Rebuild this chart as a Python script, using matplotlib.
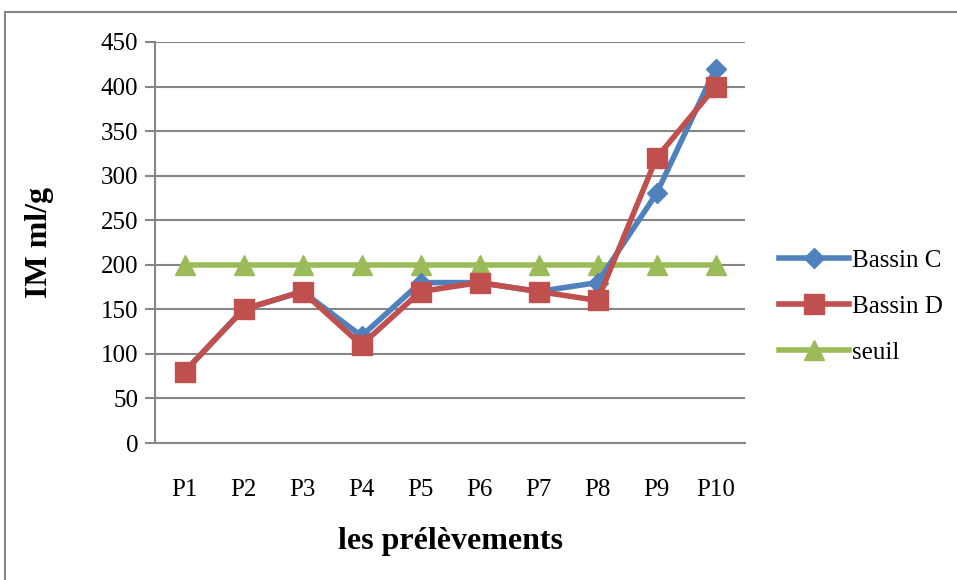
import numpy as np
import matplotlib
matplotlib.use("Agg")
import matplotlib.pyplot as plt
from matplotlib.lines import Line2D

plt.rcParams['font.family'] = ['Liberation Serif', 'DejaVu Serif']

categories = ['P1', 'P2', 'P3', 'P4', 'P5', 'P6', 'P7', 'P8', 'P9', 'P10']
bassin_c = [80, 150, 170, 120, 180, 180, 170, 180, 280, 420]
bassin_d = [80, 150, 170, 110, 170, 180, 170, 160, 320, 400]
seuil = [200, 200, 200, 200, 200, 200, 200, 200, 200, 200]

W, H = 957, 580
fig = plt.figure(figsize=(W / 100, H / 100), dpi=100)
# plot area in pixels: x 155..745, y 42..443
ax = fig.add_axes([155 / W, 1 - 443 / H, 590 / W, 401 / H])

x = np.arange(len(categories))
ax.plot(x, bassin_c, color='#4F81BD', lw=4, marker='D', ms=10, label='Bassin C', zorder=3)
ax.plot(x, bassin_d, color='#C0504D', lw=4, marker='s', ms=14, label='Bassin D', zorder=4)
ax.plot(x, seuil, color='#9BBB59', lw=4, marker='^', ms=14, label='seuil', zorder=2)

ax.set_xlim(-0.5, len(categories) - 0.5)
ax.set_ylim(0, 450)
ax.set_yticks(np.arange(0, 451, 50))
ax.set_xticks(x)
ax.set_xticklabels(categories)
ax.grid(axis='y', color='#868686', lw=1.5)
ax.set_axisbelow(True)

for s in ['top', 'right']:
    ax.spines[s].set_visible(False)
ax.spines['left'].set_color('#868686')
ax.spines['bottom'].set_color('#868686')
ax.spines['left'].set_linewidth(1.5)
ax.spines['bottom'].set_linewidth(1.5)
ax.tick_params(axis='y', length=7, width=1.5, color='#868686', labelsize=18, pad=5)
ax.tick_params(axis='x', length=0, labelsize=18, pad=26)

ax.set_xlabel('les prélèvements', fontsize=23, fontweight='bold', labelpad=19)
ax.set_ylabel('IM ml/g', fontsize=23, fontweight='bold', labelpad=34)

ax.legend(loc='center left', bbox_to_anchor=(1.02, 0.34), frameon=False,
          fontsize=18, handlelength=2.8, labelspacing=0.95, handletextpad=0.1)

# outer chart frame (left and top edges)
fig.add_artist(Line2D([5 / W, 5 / W], [0, 1 - 12 / H], color='#868686', lw=1.5))
fig.add_artist(Line2D([5 / W, 1], [1 - 12 / H, 1 - 12 / H], color='#868686', lw=1.5))

fig.savefig('out.png', dpi=100)
